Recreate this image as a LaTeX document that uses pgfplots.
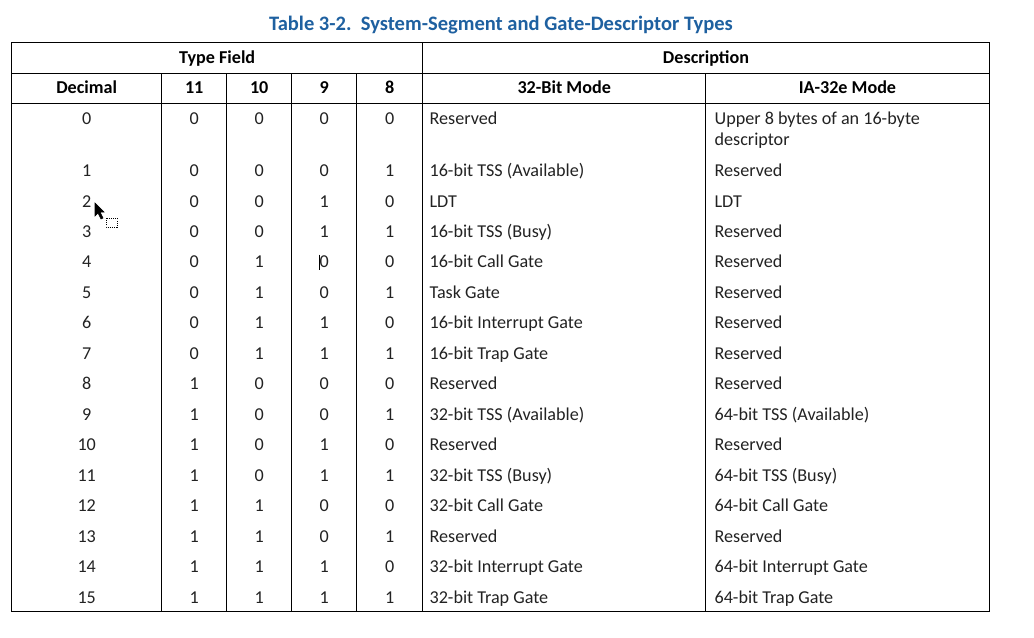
\documentclass[border=0pt]{standalone}
\usepackage{pgfplots}
\pgfplotsset{compat=1.18}
\usepackage{pgfplotstable}
\usepackage{fontspec}
\setmainfont{Carlito}
\definecolor{titleblue}{RGB}{30,96,160}
\definecolor{bodytext}{RGB}{34,34,34}

% baseline (pixel rows, downward), decimal value and bits 11..8
\pgfplotstableread{
y     dec b11 b10 b9 b8
125.0 0   0   0   0  0
176.5 1   0   0   0  1
207.0 2   0   0   1  0
237.4 3   0   0   1  1
267.9 4   0   1   0  0
298.4 5   0   1   0  1
328.9 6   0   1   1  0
359.3 7   0   1   1  1
389.8 8   1   0   0  0
420.3 9   1   0   0  1
450.7 10  1   0   1  0
481.2 11  1   0   1  1
511.7 12  1   1   0  0
542.1 13  1   1   0  1
572.6 14  1   1   1  0
603.1 15  1   1   1  1
}\bits

\pgfplotstableread[col sep=comma]{
y,m32,m64
125.0,Reserved,Upper 8 bytes of an 16-byte
145.7,,descriptor
176.5,16-bit TSS (Available),Reserved
207.0,LDT,LDT
237.4,16-bit TSS (Busy),Reserved
267.9,16-bit Call Gate,Reserved
298.4,Task Gate,Reserved
328.9,16-bit Interrupt Gate,Reserved
359.3,16-bit Trap Gate,Reserved
389.8,Reserved,Reserved
420.3,32-bit TSS (Available),64-bit TSS (Available)
450.7,Reserved,Reserved
481.2,32-bit TSS (Busy),64-bit TSS (Busy)
511.7,32-bit Call Gate,64-bit Call Gate
542.1,Reserved,Reserved
572.6,32-bit Interrupt Gate,64-bit Interrupt Gate
603.1,32-bit Trap Gate,64-bit Trap Gate
}\desc

\begin{document}
\begin{tikzpicture}[x=1pt,y=1pt]
\begin{axis}[
  scale only axis,
  width=775.5pt, height=478.5pt,
  xmin=0, xmax=1034, ymin=0, ymax=638,
  y dir=reverse,
  axis lines=box,
  axis line style={draw=none},
  xtick=\empty, ytick=\empty,
  clip=false,
  every axis plot/.append style={line width=0.9pt},
  rule/.style={black, line width=0.9pt, mark=none},
  cell/.style={draw=none, mark=none, nodes near coords,
    point meta=explicit symbolic,
    every node near coord/.append style={anchor=base, inner sep=0pt,
      font=\fontsize{13.6}{16}\selectfont, text=bodytext}},
  celll/.style={draw=none, mark=none, nodes near coords,
    point meta=explicit symbolic,
    every node near coord/.append style={anchor=base west, inner sep=0pt,
      font=\fontsize{13.6}{16}\selectfont, text=bodytext}},
]
% table rules
\addplot[rule] coordinates {(11.7,42.3) (989.3,42.3)};
\addplot[rule] coordinates {(11.7,73.3) (989.3,73.3)};
\addplot[rule] coordinates {(11.7,103.3) (989.3,103.3)};
\addplot[rule] coordinates {(11.7,611.7) (989.3,611.7)};
\addplot[rule] coordinates {(11.7,42.3) (11.7,611.7)};
\addplot[rule] coordinates {(989.3,42.3) (989.3,611.7)};
\addplot[rule] coordinates {(422.7,42.3) (422.7,611.7)};
\addplot[rule] coordinates {(161.7,73.3) (161.7,611.7)};
\addplot[rule] coordinates {(226.7,73.3) (226.7,611.7)};
\addplot[rule] coordinates {(291.7,73.3) (291.7,611.7)};
\addplot[rule] coordinates {(356.7,73.3) (356.7,611.7)};
\addplot[rule] coordinates {(705.7,73.3) (705.7,611.7)};

% title and headers
\node[anchor=base, inner sep=0pt, text=titleblue, font=\fontsize{15.4}{18}\selectfont\bfseries]
  at (axis cs:501,31) {Table 3-2.\ \ System-Segment and Gate-Descriptor Types};
\node[anchor=base, inner sep=0pt, font=\fontsize{13.6}{16}\selectfont\bfseries] at (axis cs:217.2,63.3) {Type Field};
\node[anchor=base, inner sep=0pt, font=\fontsize{13.6}{16}\selectfont\bfseries] at (axis cs:706,63.3) {Description};
\node[anchor=base, inner sep=0pt, font=\fontsize{13.6}{16}\selectfont\bfseries] at (axis cs:86.7,94) {Decimal};
\node[anchor=base, inner sep=0pt, font=\fontsize{13.6}{16}\selectfont\bfseries] at (axis cs:194.2,94) {11};
\node[anchor=base, inner sep=0pt, font=\fontsize{13.6}{16}\selectfont\bfseries] at (axis cs:259.2,94) {10};
\node[anchor=base, inner sep=0pt, font=\fontsize{13.6}{16}\selectfont\bfseries] at (axis cs:324.2,94) {9};
\node[anchor=base, inner sep=0pt, font=\fontsize{13.6}{16}\selectfont\bfseries] at (axis cs:389.7,94) {8};
\node[anchor=base, inner sep=0pt, font=\fontsize{13.6}{16}\selectfont\bfseries] at (axis cs:564.2,94) {32-Bit Mode};
\node[anchor=base, inner sep=0pt, font=\fontsize{13.6}{16}\selectfont\bfseries] at (axis cs:847.5,94) {IA-32e Mode};

% numeric cells
\addplot[cell] table[x expr=86.7,  y=y, meta=dec] {\bits};
\addplot[cell] table[x expr=194.2, y=y, meta=b11] {\bits};
\addplot[cell] table[x expr=259.2, y=y, meta=b10] {\bits};
\addplot[cell] table[x expr=324.2, y=y, meta=b9]  {\bits};
\addplot[cell] table[x expr=389.7, y=y, meta=b8]  {\bits};

% description cells
\addplot[celll] table[x expr=429, y=y, meta=m32] {\desc};
\addplot[celll] table[x expr=714, y=y, meta=m64] {\desc};

% screen-capture artefacts: text cursor and mouse pointer
\draw[black, line width=0.8pt] (axis cs:319.5,254.5) -- (axis cs:319.5,270);
\filldraw[black, line width=0.4pt] (axis cs:95,203) -- (axis cs:95,216) -- (axis cs:98,213)
  -- (axis cs:101,219) -- (axis cs:103,218) -- (axis cs:100,212) -- (axis cs:104,212) -- cycle;
\draw[black, densely dotted, line width=0.6pt] (axis cs:106,218) rectangle (axis cs:117,227);
\end{axis}
\end{tikzpicture}
\end{document}
